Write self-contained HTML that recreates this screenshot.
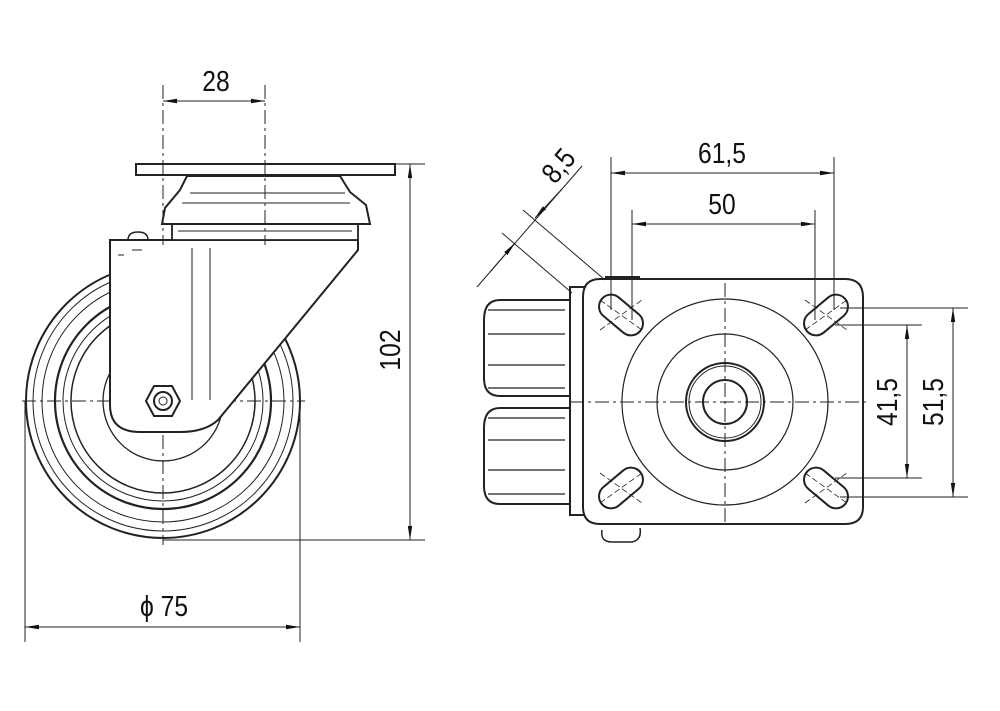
<!DOCTYPE html>
<html><head><meta charset="utf-8"><style>
html,body{margin:0;padding:0;background:#fff;}
svg{display:block}
text{font-family:"Liberation Sans",sans-serif;fill:#111;}
</style></head><body>
<svg width="1000" height="711" viewBox="0 0 1000 711" xmlns="http://www.w3.org/2000/svg">
<defs>
<marker id="a" viewBox="0 0 14 6" refX="14" refY="3" markerWidth="14" markerHeight="6" orient="auto-start-reverse" markerUnits="userSpaceOnUse"><path d="M0,0.8 L14,3 L0,5.2 Z" fill="#111"/></marker>
</defs>
<g fill="none" stroke="#222" stroke-width="1">
<line x1="163" y1="85" x2="163" y2="545" stroke-dasharray="14,4,3,4"/>
<line x1="265" y1="85" x2="265" y2="300" stroke-dasharray="14,4,3,4"/>
<line x1="22" y1="401" x2="305" y2="401" stroke-dasharray="14,4,3,4"/>
<circle cx="163" cy="401" r="137" stroke-width="2"/>
<circle cx="163" cy="401" r="130"/>
<circle cx="163" cy="401" r="121"/>
<circle cx="163" cy="401" r="108" stroke-width="2.2"/>
<circle cx="163" cy="401" r="100"/>
<circle cx="163" cy="401" r="92" stroke-width="1.5"/>
<circle cx="163" cy="401" r="60" stroke-width="1.3"/>
<path d="M110,240 L358,240 L358,250 L218,420 Q205,432 180,432 L140,432 Q110,432 110,405 Z" fill="#fff" stroke-width="2"/>
<line x1="192" y1="248" x2="192" y2="400"/>
<line x1="210" y1="248" x2="210" y2="400"/>
<path d="M128,240 Q128,232 138,232 Q148,232 148,240" stroke-width="1.5"/>
<line x1="118" y1="255" x2="124" y2="255"/><line x1="132" y1="250" x2="142" y2="250"/>
<polygon points="146,401 154,386 172,386 180,401 172,416 154,416" fill="#fff" stroke-width="2"/>
<circle cx="163" cy="401" r="9" stroke-width="2"/>
<circle cx="163" cy="401" r="4"/>
<path d="M172,224 L358,224 L358,240 L172,240 Z" fill="#fff" stroke-width="1.8"/>
<line x1="178" y1="231" x2="352" y2="231"/>
<path d="M162,224 L370,224 L366,205 L350,192 L340,176 L187,176 L180,190 L165,208 Z" fill="#fff" stroke-width="2"/>
<line x1="182" y1="203" x2="350" y2="203"/>
<line x1="190" y1="193" x2="345" y2="193"/>
<rect x="136" y="164" width="259" height="11" fill="#fff" stroke-width="2"/>
<line x1="163" y1="160" x2="163" y2="245" stroke-dasharray="14,4,3,4"/>
<line x1="265" y1="160" x2="265" y2="245" stroke-dasharray="14,4,3,4"/>
<line x1="163" y1="101" x2="265" y2="101" marker-start="url(#a)" marker-end="url(#a)"/>
<line x1="395" y1="164" x2="425" y2="164"/>
<line x1="163" y1="540" x2="425" y2="540"/>
<line x1="410" y1="164" x2="410" y2="540" marker-start="url(#a)" marker-end="url(#a)"/>
<line x1="25" y1="401" x2="25" y2="642"/>
<line x1="300" y1="401" x2="300" y2="642"/>
<line x1="25" y1="627" x2="300" y2="627" marker-start="url(#a)" marker-end="url(#a)"/>

<path d="M572,300 L500,300 Q484,300 484,320 L484,378 Q484,396 500,396 L572,396" stroke-width="2" fill="#fff"/>
<path d="M572,408 L500,408 Q484,408 484,428 L484,486 Q484,504 500,504 L572,504" stroke-width="2" fill="#fff"/>
<g stroke-width="1.2">
<line x1="488" y1="310" x2="565" y2="310"/><line x1="488" y1="334" x2="565" y2="334"/>
<line x1="488" y1="365" x2="565" y2="365"/><line x1="488" y1="388" x2="565" y2="388"/>
<line x1="488" y1="418" x2="565" y2="418"/><line x1="488" y1="440" x2="565" y2="440"/>
<line x1="488" y1="470" x2="565" y2="470"/><line x1="488" y1="494" x2="565" y2="494"/>
</g>
<rect x="570" y="287" width="17" height="228" fill="#fff" stroke-width="2"/>
<path d="M600,279 L845,279 Q863,279 863,297 L863,507 Q863,524 845,524 L600,524 Q583,524 583,507 L583,297 Q583,279 600,279 Z" fill="#fff" stroke-width="2"/>
<path d="M602,530 Q600,542 612,542 L632,542 Q642,540 640,528" stroke-width="1.5"/>
<line x1="605" y1="277" x2="640" y2="277" stroke-width="2"/>
<line x1="725" y1="283" x2="725" y2="522" stroke-dasharray="14,4,3,4"/>
<line x1="570" y1="402" x2="870" y2="402" stroke-dasharray="14,4,3,4"/>
<circle cx="725" cy="402" r="103" stroke-width="1.2"/>
<circle cx="725" cy="402" r="68" stroke-width="1.2"/>
<circle cx="725" cy="402" r="39" stroke-width="2"/>
<circle cx="725" cy="402" r="36" stroke-width="1"/>
<circle cx="725" cy="402" r="22" stroke-width="2"/>
<g stroke-width="2">
<rect x="596" y="303" width="50" height="24" rx="12" transform="rotate(40 621 315)"/>
<rect x="801" y="303" width="50" height="24" rx="12" transform="rotate(-40 826 315)"/>
<rect x="596" y="476" width="50" height="24" rx="12" transform="rotate(-40 621 488)"/>
<rect x="801" y="476" width="50" height="24" rx="12" transform="rotate(40 826 488)"/>
</g>
<g stroke-width="0.8" stroke-dasharray="6,3">
<line x1="600" y1="330" x2="642" y2="300"/><line x1="600" y1="300" x2="642" y2="330"/>
<line x1="805" y1="300" x2="847" y2="330"/><line x1="805" y1="330" x2="847" y2="300"/>
<line x1="600" y1="473" x2="642" y2="503"/><line x1="600" y1="503" x2="642" y2="473"/>
<line x1="805" y1="503" x2="847" y2="473"/><line x1="805" y1="473" x2="847" y2="503"/>
</g>
<line x1="611" y1="157" x2="611" y2="310"/>
<line x1="834" y1="157" x2="834" y2="310"/>
<line x1="611" y1="173" x2="834" y2="173" marker-start="url(#a)" marker-end="url(#a)"/>
<line x1="632" y1="210" x2="632" y2="320"/>
<line x1="815" y1="210" x2="815" y2="320"/>
<line x1="632" y1="224" x2="815" y2="224" marker-start="url(#a)" marker-end="url(#a)"/>
<line x1="840" y1="308" x2="968" y2="308"/>
<line x1="840" y1="497" x2="968" y2="497"/>
<line x1="953" y1="308" x2="953" y2="497" marker-start="url(#a)" marker-end="url(#a)"/>
<line x1="835" y1="325" x2="922" y2="325"/>
<line x1="835" y1="478" x2="922" y2="478"/>
<line x1="907" y1="325" x2="907" y2="478" marker-start="url(#a)" marker-end="url(#a)"/>
<line x1="477" y1="287" x2="582" y2="166"/>
<line x1="523" y1="210" x2="605" y2="280"/>
<line x1="502" y1="233" x2="572" y2="293"/>
<line x1="562" y1="189" x2="535" y2="218" marker-end="url(#a)"/>
<line x1="490" y1="272" x2="515" y2="243" marker-end="url(#a)"/>
</g>
<g font-size="29">
<text x="216" y="91" text-anchor="middle" transform="translate(216 0) scale(0.85 1) translate(-216 0)">28</text>
<text x="0" y="0" text-anchor="middle" transform="translate(400 350) rotate(-90) scale(0.85 1)">102</text>
<text x="164" y="616" text-anchor="middle" transform="translate(164 0) scale(0.85 1) translate(-164 0)">ϕ 75</text>
<text x="722" y="163" text-anchor="middle" transform="translate(722 0) scale(0.85 1) translate(-722 0)">61,5</text>
<text x="722" y="214" text-anchor="middle" transform="translate(722 0) scale(0.85 1) translate(-722 0)">50</text>
<text x="0" y="0" text-anchor="middle" transform="translate(943 402) rotate(-90) scale(0.85 1)">51,5</text>
<text x="0" y="0" text-anchor="middle" transform="translate(897 402) rotate(-90) scale(0.85 1)">41,5</text>
<text x="0" y="0" text-anchor="middle" transform="translate(566 172) rotate(-50) scale(0.85 1)">8,5</text>
</g>
</svg>
</body></html>
